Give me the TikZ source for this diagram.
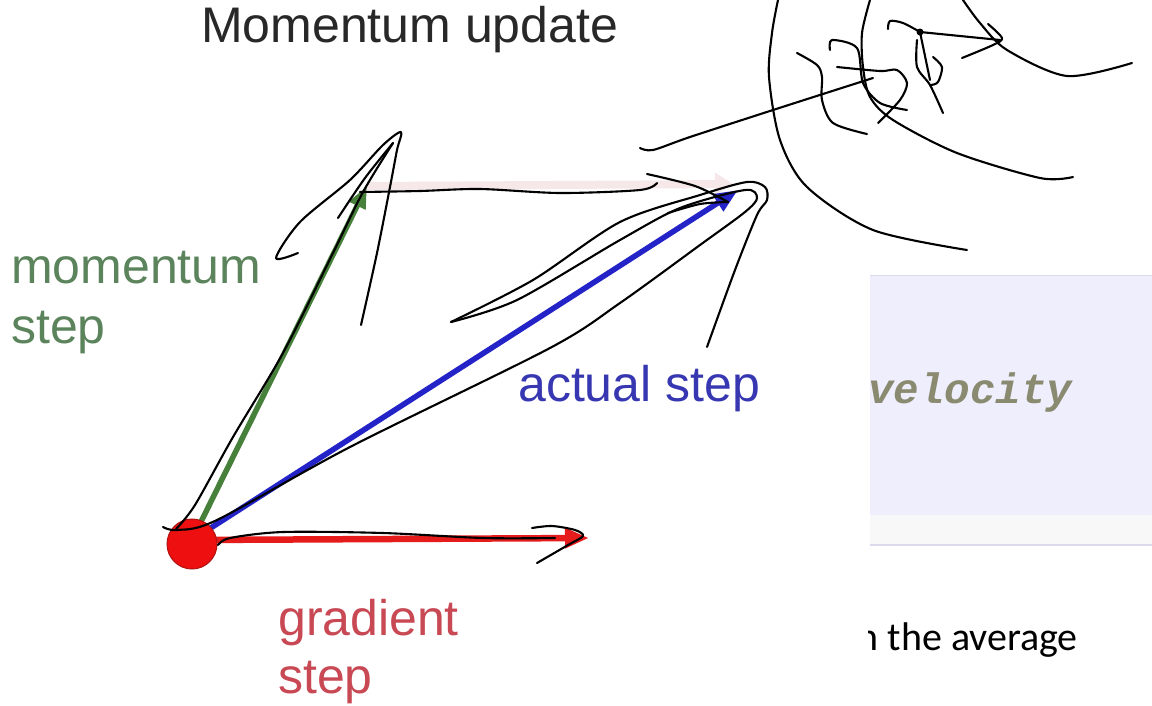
\documentclass[tikz,border=0pt]{standalone}
\usepackage{fontspec}
\setmainfont{Liberation Sans}
\newfontfamily\calibrifont{Carlito}
\newfontfamily\courfont{Liberation Mono}
\usetikzlibrary{arrows.meta}
\definecolor{gradred}{RGB}{230,28,28}
\definecolor{dotred}{RGB}{238,16,16}
\definecolor{dotedge}{RGB}{175,20,20}
\definecolor{momgreen}{RGB}{70,128,58}
\definecolor{actblue}{RGB}{35,35,200}
\definecolor{faintpink}{RGB}{246,232,232}
\definecolor{titlegray}{RGB}{40,40,40}
\definecolor{momtext}{RGB}{92,132,92}
\definecolor{acttext}{RGB}{55,55,178}
\definecolor{gradtext}{RGB}{200,72,84}
\definecolor{boxlav}{RGB}{238,238,252}
\definecolor{stripgray}{RGB}{248,248,248}
\definecolor{boxline}{RGB}{218,218,236}
\definecolor{veltext}{RGB}{138,138,112}
\begin{document}
\begin{tikzpicture}[x=1pt,y=-1pt,
  pen/.style={black,line width=2.1pt,line cap=round,line join=round},
  lbl/.style={inner sep=0pt,anchor=base west,font=\fontsize{50}{58}\selectfont},
  arrowline/.style={line width=#1,line cap=butt},
  dotstyle/.style={circle,fill=dotred,draw=dotedge,line width=1pt,minimum size=50pt,inner sep=0pt}]
\useasboundingbox (0,0) rectangle (1152,705);
\fill[white] (0,0) rectangle (1152,705);

% code box on the right
\fill[boxlav] (870,275) rectangle (1152,515);
\fill[stripgray] (870,515) rectangle (1152,545);
\draw[boxline,line width=1.2pt] (870,275.5) -- (1152,275.5);
\draw[boxline,line width=1.2pt] (870,545) -- (1152,545);
\node[inner sep=0pt,anchor=base west,text=veltext,font=\courfont\bfseries\itshape\fontsize{42.5}{50}\selectfont] (vel) at (868,403) {velocity};

\begin{scope}
  \clip (868,600) rectangle (1152,705);
  \node[inner sep=0pt,anchor=base east,font=\calibrifont\fontsize{40}{48}\selectfont] (avg) at (1078,650) {n the average};
\end{scope}

% labels
\node[lbl,text=titlegray] (title) at (201,42) {Momentum update};
\node[lbl,text=momtext] (mom1) at (11,283) {momentum};
\node[lbl,text=momtext] (mom2) at (11,343) {step};
\node[lbl,text=acttext] (act) at (518,401) {actual step};
\node[lbl,text=gradtext] (grad1) at (278,635) {gradient};
\node[lbl,text=gradtext] (grad2) at (278,693) {step};

% vectors
\coordinate (o) at (192,540);
\coordinate (gtip) at (589,538);
\coordinate (mtip) at (367,186);
\coordinate (atip) at (738,190);
\coordinate (ftip) at (733,184);
\draw[faintpink,arrowline=8pt,-{Triangle[length=18pt,width=22pt]}] (mtip) -- (ftip);
\draw[gradred,arrowline=6.5pt,-{Triangle[length=24pt,width=19pt]}] (o) -- (gtip);
\draw[momgreen,arrowline=5.5pt,-{Triangle[length=22pt,width=17pt]}] (o) -- (mtip);
\draw[actblue,arrowline=5.5pt,-{Triangle[length=24pt,width=19pt]}] (o) -- (atip);
\node[dotstyle] (dot) at (192,544) {};

% hand-drawn strokes
% around the momentum step
\draw[pen] plot[smooth] coordinates {(298,253) (276,258) (300,222) (350,180) (383,145) (401,132) (397,150) (390,187) (377,253) (361,325)};
\draw[pen] plot[smooth] coordinates {(338,218) (365,178) (393,143)};
\draw[pen] plot[smooth] coordinates {(393,143) (363,192) (333,253) (283,353) (233,437) (195,505) (176,529)};
% around the actual step
\draw[pen] plot[smooth] coordinates {(163,527) (177,530) (217,520) (350,447) (550,348) (620,303) (700,245) (745,212) (757,198) (745,190) (680,208) (620,240) (517,300) (451,322)};
\draw[pen] plot[smooth] coordinates {(451,322) (533,280) (620,222) (700,195) (747,182) (765,187) (767,200) (757,215) (735,270) (707,347)};
\draw[pen] plot[smooth] coordinates {(647,174) (695,186) (728,202)};
\draw[pen] plot[smooth] coordinates {(728,202) (700,204) (668,213)};
% wave over the shifted gradient step
\draw[pen] plot[smooth] coordinates {(360,192) (420,191) (480,189) (560,193) (640,190) (657,183)};
% along the gradient step
\draw[pen] plot[smooth] coordinates {(218,545) (230,538) (283,532) (383,533) (483,538) (555,538)};
\draw[pen] plot[smooth] coordinates {(532,528) (552,526) (575,530) (583,536) (568,545) (537,563)};
% scribbles top right
\draw[pen] plot[smooth] coordinates {(778,0) (772,33) (769,77) (780,140) (807,187) (873,230) (967,250)};
\draw[pen] plot[smooth] coordinates {(870,0) (862,33) (863,67) (870,97) (893,120) (957,153) (1040,178) (1073,177)};
\draw[pen] plot[smooth] coordinates {(963,0) (980,23) (1007,50) (1067,76) (1132,63)};
\draw[pen] plot[smooth] coordinates {(640,148) (653,150) (690,137) (773,110) (873,78)};
\draw[pen] plot[smooth] coordinates {(797,53) (817,65) (822,77) (822,100) (833,123) (867,134)};
\draw[pen] plot[smooth] coordinates {(830,50) (832,40) (857,48) (863,83) (880,103) (907,110)};
\draw[pen] plot[smooth] coordinates {(837,67) (880,71) (897,70) (907,83) (900,100) (878,123)};
\coordinate (pt) at (920,32);
\fill (pt) circle (3.5pt);
\draw[pen] plot[smooth] coordinates {(888,29) (890,21) (903,23) (920,32)};
\draw[pen] (pt) -- (1000,40);
\draw[pen] plot[smooth] coordinates {(988,24) (1002,38) (993,45) (962,58)};
\draw[pen] (pt) -- (930,80);
\draw[pen] plot[smooth] coordinates {(917,40) (917,67) (930,85) (943,113)};
\draw[pen] plot[smooth] coordinates {(933,57) (942,67) (938,82) (931,85)};
\end{tikzpicture}
\end{document}
